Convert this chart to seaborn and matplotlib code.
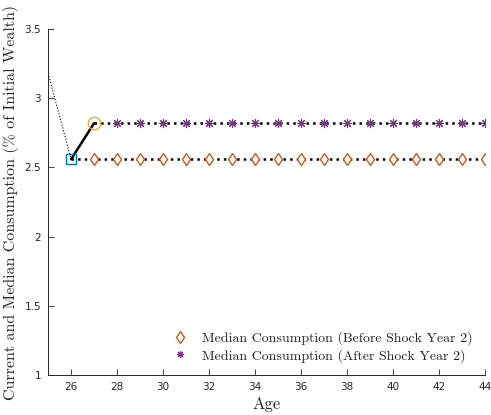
import matplotlib
matplotlib.use("Agg")
import matplotlib.pyplot as plt
import seaborn as sns
import numpy as np
import pandas as pd
from matplotlib.lines import Line2D

sns.set_style("ticks")
plt.rcParams['font.family'] = ['DejaVu Sans']

# Data
ages_before = list(range(26, 45))
median_before = [2.56] * len(ages_before)
ages_after = list(range(27, 45))
median_after = [2.82] * len(ages_after)
path_ages_prior = [25, 26]
path_vals_prior = [3.18, 2.56]
path_ages_shock = [26, 27]
path_vals_shock = [2.56, 2.82]

xticks = list(range(26, 45, 2))
yticks = [1, 1.5, 2, 2.5, 3, 3.5]

c_blue = '#0072BD'
c_orange = '#D95319'
c_yellow = '#EDB120'
c_purple = '#7E2F8E'
c_axis = '#262626'

fig = plt.figure(figsize=(4.91, 4.15), dpi=100)
ax = fig.add_axes([0.098, 0.096, 0.89, 0.834])

df_b = pd.DataFrame({'Age': ages_before, 'val': median_before})
df_a = pd.DataFrame({'Age': ages_after, 'val': median_after})

# dotted lines
sns.lineplot(data=df_b, x='Age', y='val', ax=ax, color='black', linestyle=':', linewidth=1.8, zorder=2)
sns.lineplot(data=df_a, x='Age', y='val', ax=ax, color='black', linestyle=':', linewidth=1.8, zorder=2)
# path lines
ax.plot(path_ages_prior, path_vals_prior, color='black', linestyle=':', linewidth=0.8, zorder=2)
ax.plot(path_ages_shock, path_vals_shock, color='black', linestyle='-', linewidth=1.8, zorder=2)

# markers
ax.plot(df_b['Age'][1:], df_b['val'][1:], linestyle='none', marker='d', markersize=6.5,
        markerfacecolor='white', markeredgecolor=c_orange, markeredgewidth=1.0, zorder=3)
ax.plot(df_a['Age'][1:], df_a['val'][1:], linestyle='none', marker=(8, 2, 0), markersize=6.5,
        markeredgecolor=c_purple, markeredgewidth=0.8, zorder=3)
ax.plot([26], [2.56], linestyle='none', marker='s', markersize=6.5,
        markerfacecolor='none', markeredgecolor=c_blue, markeredgewidth=1.0, zorder=4)
ax.plot([27], [2.82], linestyle='none', marker='o', markersize=9,
        markerfacecolor='none', markeredgecolor=c_yellow, markeredgewidth=1.0, zorder=4)

ax.set_xlim(25, 44)
ax.set_ylim(1, 3.5)
ax.set_xticks(xticks)
ax.set_xticklabels([str(t) for t in xticks])
ax.set_yticks(yticks)
ax.set_yticklabels(['1', '1.5', '2', '2.5', '3', '3.5'])
ax.tick_params(direction='in', length=4, width=0.6, labelsize=7.5, colors=c_axis, pad=5)

for s in ['top', 'right']:
    ax.spines[s].set_visible(False)
for s in ['left', 'bottom']:
    ax.spines[s].set_color(c_axis)
    ax.spines[s].set_linewidth(0.7)

ax.set_xlabel('Age', fontfamily=['cmr10', 'DejaVu Serif'], fontsize=12, color=c_axis, labelpad=3)
ax.set_ylabel('Current and Median Consumption (% of Initial Wealth)',
              fontfamily=['cmr10', 'DejaVu Serif'], fontsize=11.5, color=c_axis, labelpad=4)

handles = [
    Line2D([], [], linestyle='none', marker='d', markersize=6, markerfacecolor='white',
           markeredgecolor=c_orange, markeredgewidth=1.0),
    Line2D([], [], linestyle='none', marker=(8, 2, 0), markersize=5,
           markeredgecolor=c_purple, markeredgewidth=0.8),
]
labels = ['Median Consumption (Before Shock Year 2)', 'Median Consumption (After Shock Year 2)']
ax.legend(handles, labels, loc='lower right', frameon=False,
          prop={'family': ['cmr10', 'DejaVu Serif'], 'size': 10},
          handletextpad=0.6, labelspacing=0.25, bbox_to_anchor=(1.0, 0.0))

fig.savefig('out.png', dpi=100)
